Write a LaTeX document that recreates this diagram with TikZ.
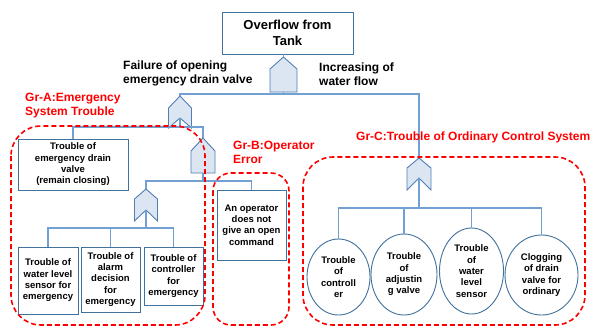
\documentclass[tikz,border=0pt]{standalone}
\usepackage{fontspec}
\setmainfont{Liberation Sans}
\usetikzlibrary{shapes.geometric}
\definecolor{boxblue}{RGB}{65,113,156}
\definecolor{gatefill}{RGB}{220,230,242}
\definecolor{gateline}{RGB}{80,126,180}
\definecolor{wirecol}{RGB}{115,160,210}
\newcommand\AndGate[6]{%
  \draw[gate] (#2,#4) -- (#2+#3,#5) -- (#2+#3,#6) -- (#2-#3,#6) -- (#2-#3,#5) -- cycle;
  \coordinate (#1t) at (#2,#4);
  \coordinate (#1b) at (#2,#6);}
\newcommand\OrGate[7]{%
  \draw[gate] (#2,#4) -- (#2+#3,#5) -- (#2+#3,#6) -- (#2,#7) -- (#2-#3,#6) -- (#2-#3,#5) -- cycle;
  \coordinate (#1t) at (#2,#4);
  \coordinate (#1b) at (#2,#7);}
\begin{document}
\begin{tikzpicture}[x=1pt,y=-1pt,
  gate/.style={draw=gateline, fill=gatefill, line width=0.9pt, line join=miter},
  wire/.style={draw=wirecol, line width=1.2pt},
  box/.style={draw=boxblue, line width=0.9pt, fill=white, align=center, inner sep=1pt,
    font=\fontsize{9.5}{11.3}\selectfont\bfseries},
  circ/.style={ellipse, draw=boxblue, line width=0.9pt, fill=white, align=center, inner sep=0pt,
    font=\fontsize{9.5}{11.3}\selectfont\bfseries},
  grp/.style={draw=red, line width=1.6pt, dash pattern=on 5pt off 3pt},
  lbl/.style={align=left, inner sep=0pt, font=\fontsize{12}{14}\selectfont\bfseries},
  rlbl/.style={lbl, text=red}]
\useasboundingbox (0,0) rectangle (593,327);
% gates
\AndGate{G1}{283.5}{13.5}{57}{69}{92}
\OrGate{G2}{180}{11.5}{96}{108}{128}{118}
\AndGate{G3}{203}{12}{138}{151}{173}
\OrGate{G4}{146}{11.5}{189}{199}{221}{210}
\OrGate{G5}{419}{12}{158}{168}{190}{178}
% boxes
\node[box, minimum width=131pt, minimum height=42pt, font=\fontsize{13}{16}\selectfont\bfseries] (tank) at (287.5,33) {Overflow from\\Tank};
\node[box, minimum width=110pt, minimum height=51pt] (drain) at (73,164.5) {Trouble of\\emergency drain\\valve\\(remain closing)};
\node[box, minimum width=69pt, minimum height=70pt] (oper) at (251.5,225) {An operator\\does not\\give an open\\command};
\node[box, minimum width=60pt, minimum height=67pt] (b1) at (48,280.5) {Trouble of\\water level\\sensor for\\emergency};
\node[box, minimum width=59pt, minimum height=65pt] (b2) at (110.5,279.5) {Trouble of\\alarm\\decision\\for\\emergency};
\node[box, minimum width=59pt, minimum height=58pt] (b3) at (173.5,276) {Trouble of\\controller\\for\\emergency};
\node[circ, minimum width=63pt, minimum height=76pt] (c1) at (338.5,277) {Trouble\\of\\controll\\er};
\node[circ, minimum width=66pt, minimum height=81pt] (c2) at (404,274.5) {Trouble\\of\\adjustin\\g valve};
\node[circ, minimum width=64pt, minimum height=86pt] (c3) at (471.5,271) {Trouble\\of\\water\\level\\sensor};
\node[circ, minimum width=73pt, minimum height=80pt] (c4) at (541.5,275) {Clogging\\of drain\\valve for\\ordinary};
% connectors
\coordinate (bus1) at (0,94);
\coordinate (bus2) at (0,127);
\coordinate (bus3) at (0,181);
\coordinate (bus4) at (0,228);
\coordinate (bus5) at (0,208);
\draw[wire] (G1t) -- (G1t |- tank.south);
\draw[wire] (G1b) -- (G1b |- bus1);
\draw[wire] (G2t) -- (G2t |- bus1) -- (G5t |- bus1) -- (G5t);
\draw[wire] (G2b) -- (G2b |- bus2);
\draw[wire] (drain.north) -- (drain.north |- bus2) -- (G3t |- bus2) -- (G3t);
\draw[wire] (G3b) -- (G3b |- bus3);
\draw[wire] (G4t) -- (G4t |- bus3) -- (oper.north |- bus3) -- (oper.north);
\draw[wire] (G4b) -- (G4b |- bus4);
\draw[wire] (b1.north) -- (b1.north |- bus4) -- (b3.north |- bus4) -- (b3.north);
\draw[wire] (b2.north) -- (b2.north |- bus4);
\draw[wire] (G5b) -- (G5b |- bus5);
\draw[wire] (c1.north) -- (c1.north |- bus5) -- (c4.north |- bus5) -- (c4.north);
\draw[wire] (c2.north) -- (c2.north |- bus5);
\draw[wire] (c3.north) -- (c3.north |- bus5);
% groups
\draw[grp, rounded corners=30pt] (11,126) rectangle (205,325);
\draw[grp, rounded corners=18pt] (213,173) rectangle (289,325);
\draw[grp, rounded corners=30pt] (303,157) rectangle (585,325);
% labels
\node[lbl, anchor=base west] (l1) at (123,83) {Failure of opening\\emergency drain valve};
\node[lbl, anchor=base west] (l2) at (319,85) {Increasing of\\water flow};
\node[rlbl, anchor=base west] (ga) at (25,115) {Gr-A:Emergency\\System Trouble};
\node[rlbl, anchor=base west] (gb) at (233,163) {Gr-B:Operator\\Error};
\node[rlbl, anchor=base west] (gc) at (356,140) {Gr-C:Trouble of Ordinary Control System};
\end{tikzpicture}
\end{document}
